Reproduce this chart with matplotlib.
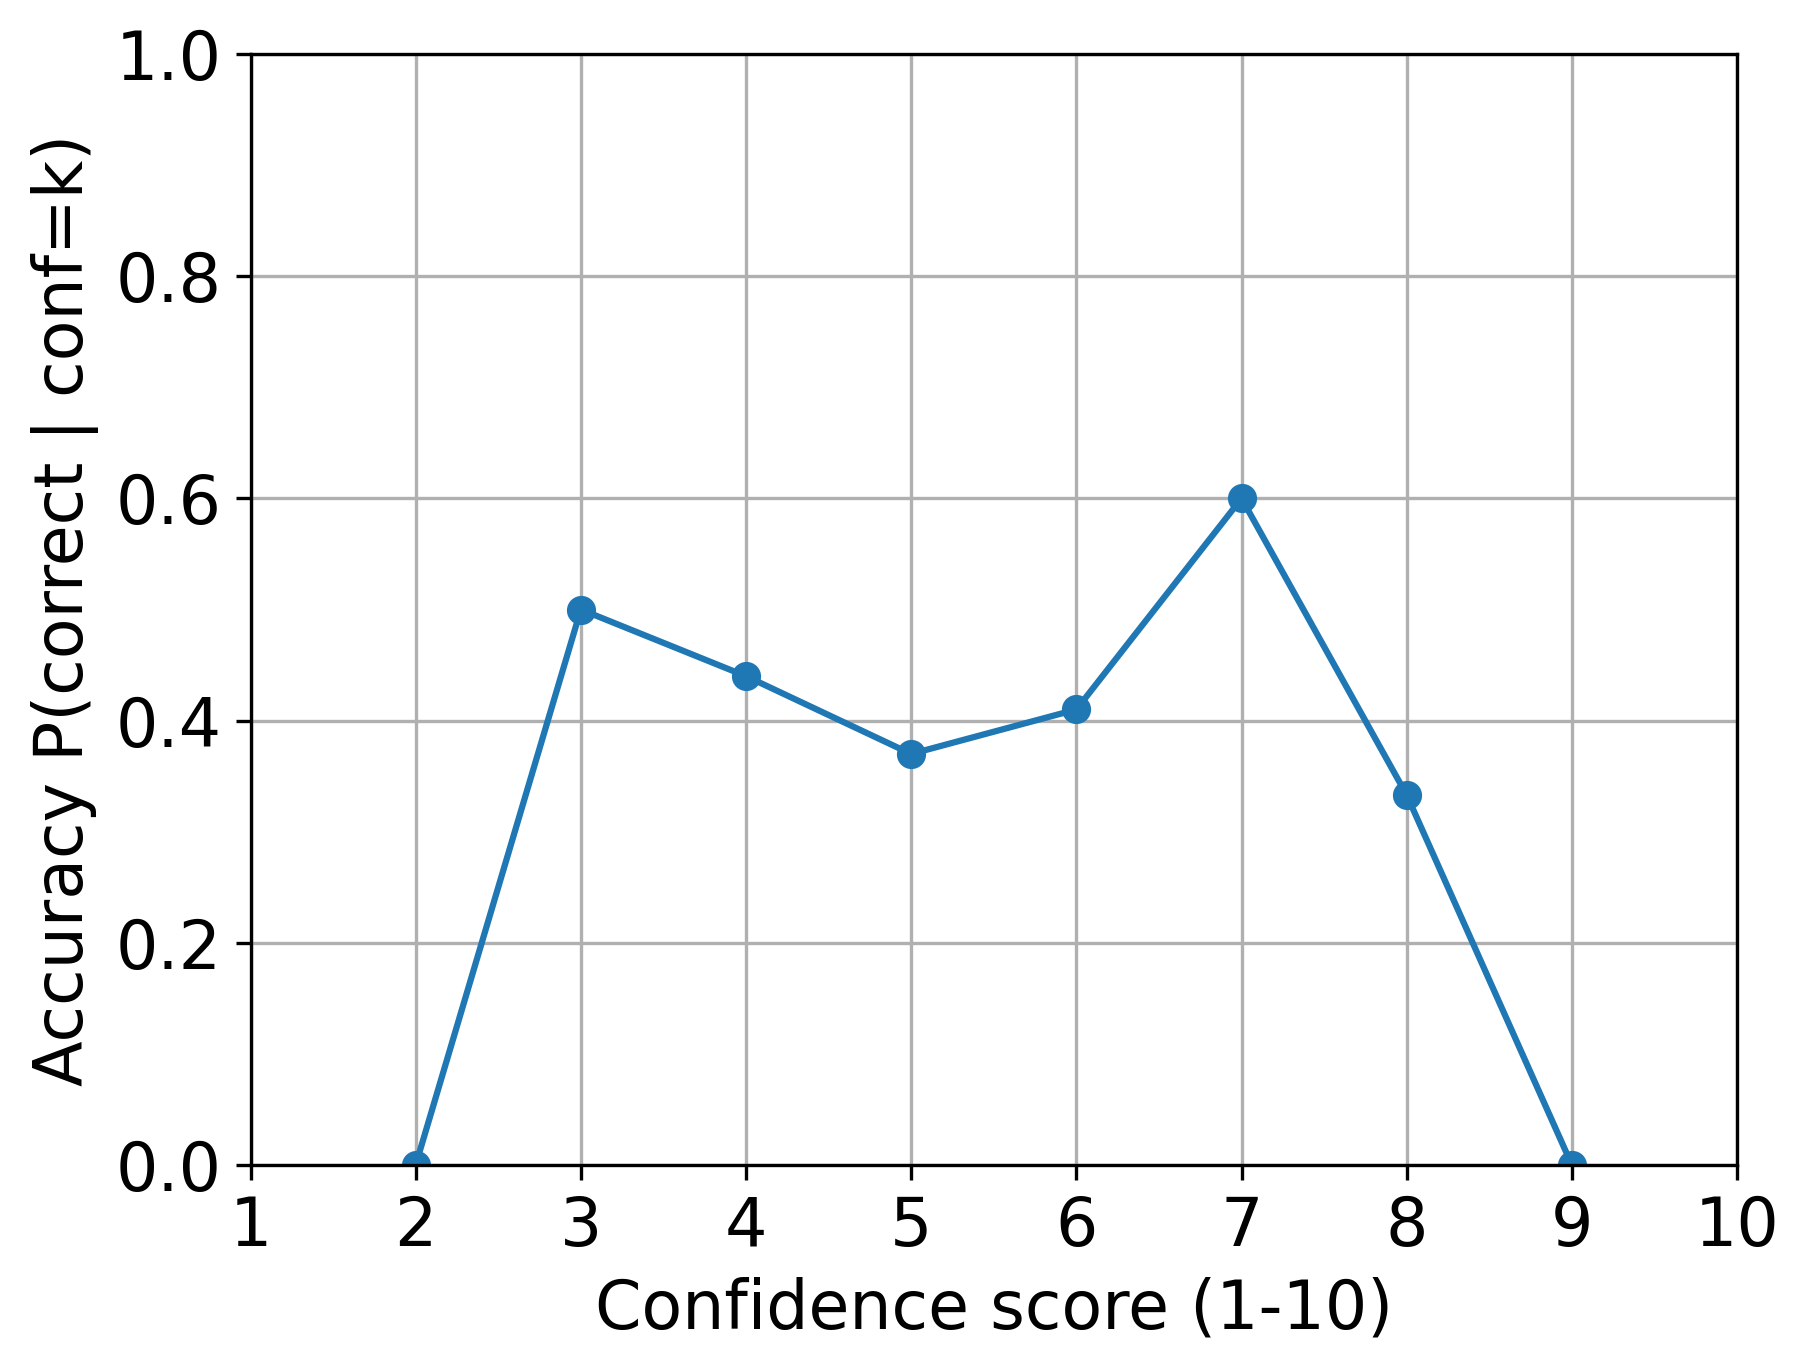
import matplotlib
matplotlib.use("Agg")
import matplotlib.pyplot as plt

# 置信度分数与对应准确率
conf_scores = [2, 3, 4, 5, 6, 7, 8, 9]
accuracy = [0.0, 0.5, 0.44, 0.37, 0.41, 0.6, 0.333, 0.0]

fig = plt.figure(figsize=(1810 / 300, 1372 / 300), dpi=300)
ax = fig.add_axes([0.1384, 0.1509, 0.8213, 0.8097])

ax.plot(conf_scores, accuracy, marker="o", color="#1f77b4")
ax.set_xlim(1, 10)
ax.set_ylim(0, 1)
ax.set_xticks(range(1, 11))
ax.set_xlabel("Confidence score (1-10)", fontsize=16)
ax.set_ylabel("Accuracy P(correct | conf=k)", fontsize=16)
ax.tick_params(labelsize=16)
ax.grid(True)

fig.savefig("out.png", dpi=300)
